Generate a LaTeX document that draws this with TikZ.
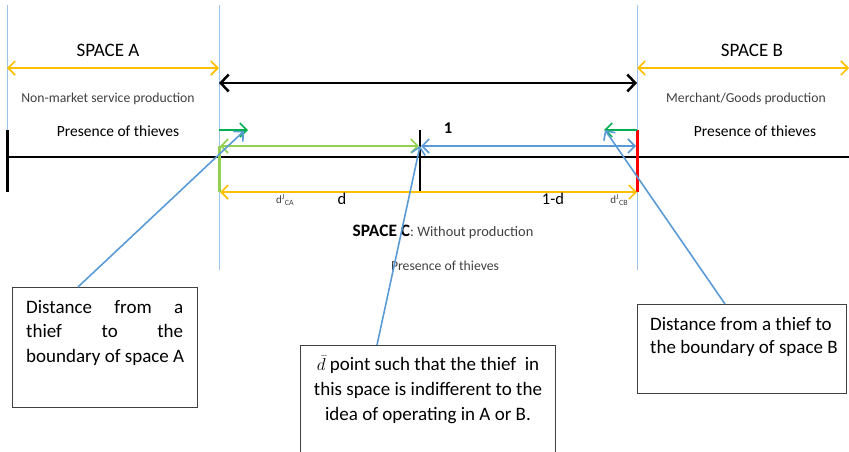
\documentclass[tikz,border=0pt]{standalone}
\usepackage{fontspec}
\setmainfont{Carlito}
\usetikzlibrary{arrows.meta}
\definecolor{vblue}{HTML}{9DC3E6}
\definecolor{pblue}{HTML}{5B9BD5}
\definecolor{ayellow}{HTML}{FFC000}
\definecolor{lgreen}{HTML}{92D050}
\definecolor{dgreen}{HTML}{00B050}
\definecolor{txtgray}{HTML}{404040}
\newcommand{\fs}[1]{\fontsize{#1}{#1}\selectfont}
\tikzset{
  barb/.style={arrows={-Straight Barb[length=7pt,width=14pt,line width=1.6pt]}},
  barbboth/.style={arrows={Straight Barb[length=7pt,width=14pt,line width=1.6pt]-Straight Barb[length=7pt,width=14pt,line width=1.6pt]}},
  vline/.style={vblue,line width=0.9pt},
  yarrow/.style={ayellow,line width=1.8pt,barbboth},
  pointer/.style={pblue,line width=1.6pt,barb},
  lbl/.style={inner sep=0pt,text=txtgray},
  boxst/.style={draw=txtgray,line width=1pt,inner sep=0pt,anchor=north west},
  boxtxt/.style={inner sep=0pt,text=black,font=\fs{19}}
}
\begin{document}
\begin{tikzpicture}[x=1pt,y=-1pt]
\useasboundingbox (0,0) rectangle (849,451);
\clip (0,0) rectangle (849,451);
% coordinates
\coordinate (L0) at (7,157);
\coordinate (R0) at (849,157);
% vertical boundaries
\draw[vline] (7,5) -- (7,130);
\draw[vline] (219,5) -- (219,270);
\draw[vline] (637,5) -- (637,270);
% main line
\draw[black,line width=1.5pt] (L0) -- (R0);
\draw[black,line width=3pt] (7,130) -- (7,192);
\draw[black,line width=2pt] (420,130) -- (420,192);
% top arrows
\coordinate (ya1) at (7,68);
\coordinate (ya2) at (219,68);
\coordinate (yb1) at (637,68);
\coordinate (yb2) at (849,68);
\draw[yarrow] (ya1) -- (ya2);
\draw[yarrow] (yb1) -- (yb2);
\coordinate (k1) at (219,83);
\coordinate (k2) at (637,83);
\draw[black,line width=2.8pt,arrows={Straight Barb[length=8pt,width=17pt,line width=2.5pt]-Straight Barb[length=8pt,width=17pt,line width=2.5pt]}] (k1) -- (k2);
% texts top
\node[lbl,text=black] (spA) at (108,50) {\fs{19}SPACE A};
\node[lbl,text=black] (spB) at (752,50) {\fs{19}SPACE B};
\node[lbl] (nm) at (108,99) {\fs{13.7}Non-market service production};
\node[lbl] (mg) at (746,99) {\fs{13.7}Merchant/Goods production};
\node[lbl,text=black] (pA) at (118,131) {\fs{15.5}Presence of thieves};
\node[lbl,text=black] (pB) at (755,131) {\fs{15.5}Presence of thieves};
\node[lbl,text=black] (one) at (448,128) {\fs{16.5}\textbf{1}};
% green / red boundaries
\draw[lgreen,line width=3pt] (219,146) -- (219,192);
\draw[red,line width=3pt] (637,130) -- (637,192);
\coordinate (g1) at (219,130);
\coordinate (g2) at (248,130);
\draw[dgreen,line width=1.6pt,barb] (g1) -- (g2);
\coordinate (g3) at (637,130);
\coordinate (g4) at (604,130);
\draw[dgreen,line width=1.6pt,barb] (g3) -- (g4);
% light green and blue distance arrows
\coordinate (lg1) at (220,146);
\coordinate (lg2) at (419,146);
\draw[lgreen,line width=1.6pt,barbboth] (lg1) -- (lg2);
\coordinate (bl1) at (421,146);
\coordinate (bl2) at (636,146);
\draw[pblue,line width=1.6pt,barbboth] (bl1) -- (bl2);
% yellow bottom arrow
\coordinate (yd1) at (220,192);
\coordinate (yd2) at (637,192);
\draw[yarrow] (yd1) -- (yd2);
% labels under
\node[lbl] (dca) at (285,200) {\fs{11}d\textsuperscript{J}\raisebox{-0.5ex}{\fs{8}CA}};
\node[lbl,text=black] (dd) at (342,199) {\fs{16.5}d};
\node[lbl,text=black] (omd) at (553,199) {\fs{16.5}1-d};
\node[lbl] (dcb) at (619,200) {\fs{11}d\textsuperscript{J}\raisebox{-0.5ex}{\fs{8}CB}};
\node[lbl,text=black] (spC) at (443,232) {\fs{17.4}\textbf{SPACE C}\fs{14.4}\textcolor{txtgray}{: Without production}};
\node[lbl] (pC) at (445,266) {\fs{13.7}Presence of thieves};
% boxes
\node[boxst,minimum width=185pt,minimum height=120pt] (box1) at (12,287) {};
\node[boxst,minimum width=255pt,minimum height=120pt] (box2) at (300,345) {};
\node[boxst,minimum width=209pt,minimum height=89pt] (box3) at (637,304) {};
% box texts
\node[boxtxt,anchor=base west] (b1l1) at (26,313) {\makebox[157pt][s]{Distance from a}};
\node[boxtxt,anchor=base west] (b1l2) at (26,337) {\makebox[157pt][s]{thief to the}};
\node[boxtxt,anchor=base west] (b1l3) at (26,362) {boundary of space A};
\node[boxtxt,anchor=base] (b2l1) at (428,370) {$\bar{d}$ point such that the thief~ in};
\node[boxtxt,anchor=base] (b2l2) at (428,395) {this space is indifferent to the};
\node[boxtxt,anchor=base] (b2l3) at (428,420) {idea of operating in A or B.};
\node[boxtxt,anchor=base west] (b3l1) at (650,330) {Distance from a thief to};
\node[boxtxt,anchor=base west] (b3l2) at (650,353) {the boundary of space B};
% pointers
\coordinate (s1) at (78,287);
\coordinate (s2) at (377,345);
\coordinate (s3) at (725,304);
\coordinate (t1) at (244,131);
\coordinate (t2) at (420,146);
\coordinate (t3) at (605,130);
\draw[pointer] (s1) -- (t1);
\draw[pointer] (s2) -- (t2);
\draw[pointer] (s3) -- (t3);
\end{tikzpicture}
\end{document}
